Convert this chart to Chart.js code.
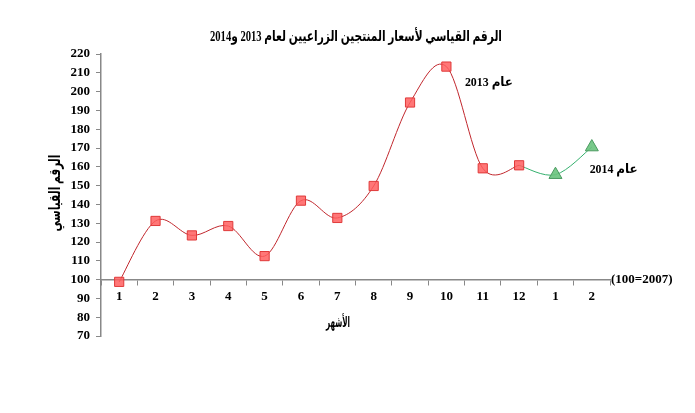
<!DOCTYPE html>
<html>
<head>
<meta charset="utf-8">
<script src="https://cdn.jsdelivr.net/npm/chart.js@4"></script>
<style>
  html, body { margin: 0; padding: 0; background: #fff; }
  #wrap { width: 695px; height: 413px; }
</style>
</head>
<body>
<div id="wrap"><canvas id="myChart" width="695" height="413"></canvas></div>
<script>
// chart data
var months = ["1", "2", "3", "4", "5", "6", "7", "8", "9", "10", "11", "12", "1", "2"];
var index2013 = [98.8, 131.2, 123.5, 128.5, 112.5, 142, 132.8, 149.8, 194.2, 213.3, 159.2, 160.8, null, null];
var index2014 = [null, null, null, null, null, null, null, null, null, null, null, 160.8, 155.8, 170.5];
var yTicks = [70, 80, 90, 100, 110, 120, 130, 140, 150, 160, 170, 180, 190, 200, 210, 220];

var chartTitle = "الرقم القياسي لأسعار المنتجين الزراعيين لعام 2013 و2014";
var yTitle = "الرقم القياسي";
var xTitle = "الأشهر";
var baseNote = "(100=2007)";
// labels next to the lines: [text, category index, value]
var seriesNotes = [["عام 2013", 10.17, 204.5], ["عام 2014", 13.6, 158.5]];

var fontFamily = '"Liberation Serif", "DejaVu Sans", serif';

/**
 * spreadsheet style smoothing: control points from the two neighbours,
 * a sixth of the way, same on both sides of every point
 */
var smoothPlugin = {
    id: "smoothPlugin",
    beforeDatasetDraw: function(chart, args) {
        let meta = args.meta;
        let line = meta.dataset;
        line.updateControlPoints(chart.chartArea, meta.indexAxis);
        let pts = meta.data.filter(p => !p.skip);
        for (let i = 0; i < pts.length; i++) {
            let prev = pts[Math.max(i - 1, 0)];
            let next = pts[Math.min(i + 1, pts.length - 1)];
            let dx = (next.x - prev.x) / 6;
            let dy = (next.y - prev.y) / 6;
            pts[i].cp1x = pts[i].x - dx;
            pts[i].cp1y = pts[i].y - dy;
            pts[i].cp2x = pts[i].x + dx;
            pts[i].cp2y = pts[i].y + dy;
        }
    }
};

// draws the titles and notes so the arabic text gets rtl direction
var textPlugin = {
    id: "textPlugin",
    afterDraw: function(chart) {
        let ctx = chart.ctx;
        let x = chart.scales.x;
        let y = chart.scales.y;
        ctx.save();
        ctx.fillStyle = "#000";
        ctx.textBaseline = "middle";
        ctx.textAlign = "center";
        ctx.direction = "rtl";

        ctx.font = "bold 15px " + fontFamily;
        ctx.fillText(chartTitle, 356, 37, 292);

        ctx.font = "bold 15px " + fontFamily;
        ctx.fillText(xTitle, 338, 323, 24);

        ctx.save();
        ctx.font = "bold 16px " + fontFamily;
        ctx.translate(56, 193);
        ctx.rotate(-Math.PI / 2);
        ctx.fillText(yTitle, 0, 0, 77);
        ctx.restore();

        ctx.font = "bold 13px " + fontFamily;
        for (let i = 0; i < seriesNotes.length; i++) {
            let note = seriesNotes[i];
            ctx.fillText(note[0], x.getPixelForValue(note[1]), y.getPixelForValue(note[2]), 48);
        }

        ctx.direction = "ltr";
        ctx.textAlign = "left";
        ctx.font = "bold 13px " + fontFamily;
        ctx.fillText(baseNote, chart.chartArea.right + 1, y.getPixelForValue(100), 66);
        ctx.restore();
    }
};

var data = {
    labels: months,
    datasets: [{
        label: "2013",
        data: index2013,
        borderColor: "#c1272d",
        borderWidth: 1,
        backgroundColor: "rgba(255, 95, 95, 0.85)",
        pointBorderColor: "#e03a3a",
        pointStyle: "rect",
        pointRadius: 6.5,
        pointBorderWidth: 1,
        tension: 0.4
    }, {
        label: "2014",
        data: index2014,
        borderColor: "#35b06e",
        borderWidth: 1,
        backgroundColor: "rgba(105, 195, 125, 0.9)",
        pointBorderColor: "#4a9a60",
        pointStyle: "triangle",
        pointRadius: [0, 0, 0, 0, 0, 0, 0, 0, 0, 0, 0, 0, 7.5, 7.5],
        pointBorderWidth: 1,
        tension: 0.4
    }]
};

var config = {
    type: "line",
    data: data,
    plugins: [smoothPlugin, textPlugin],
    options: {
        responsive: false,
        animation: false,
        layout: {
            padding: { top: 54, right: 85, bottom: 77, left: 0 }
        },
        plugins: {
            legend: { display: false },
            title: { display: false },
            tooltip: { enabled: false }
        },
        scales: {
            x: {
                position: { y: 100 },
                offset: true,
                grid: {
                    drawOnChartArea: false,
                    offset: true,
                    tickLength: 5,
                    color: "#888"
                },
                border: { color: "#888", width: 1.5 },
                ticks: {
                    color: "#000",
                    padding: 4,
                    font: { family: fontFamily, size: 13, weight: "bold" }
                }
            },
            y: {
                min: 70,
                max: 220,
                afterFit: function(scale) { scale.width = 101; },
                afterBuildTicks: function(scale) {
                    scale.ticks = yTicks.map(v => ({ value: v }));
                },
                grid: {
                    drawOnChartArea: false,
                    tickLength: 5,
                    color: "#888"
                },
                border: { color: "#888", width: 1.5 },
                ticks: {
                    color: "#000",
                    padding: 6,
                    font: { family: fontFamily, size: 13, weight: "bold" }
                }
            }
        }
    }
};

var myChart = new Chart(document.getElementById("myChart"), config);
</script>
</body>
</html>
